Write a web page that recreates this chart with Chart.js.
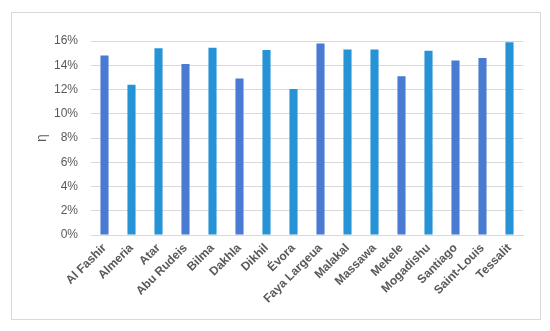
<!DOCTYPE html>
<html>
<head>
<meta charset="utf-8">
<script src="https://cdn.jsdelivr.net/npm/chart.js@4"></script>
<style>
  body { margin: 0; background: #fff; }
  #wrap { position: relative; width: 550px; height: 331px; }
  #frame { position: absolute; left: 11px; top: 12px; width: 528px; height: 306px; border: 1px solid #d9d9d9; pointer-events: none; }
  canvas { position: absolute; left: 0; top: 0; }
</style>
</head>
<body>
<div id="wrap">
  <canvas id="grafica" width="550" height="331"></canvas>
  <div id="frame"></div>
</div>
<script>
// Datos
const estaciones = ['Al Fashir', 'Almeria', 'Atar', 'Abu Rudeis', 'Bilma', 'Dakhla', 'Dikhil', 'Évora',
    'Faya Largeua', 'Malakal', 'Massawa', 'Mekele', 'Mogadishu', 'Santiago', 'Saint-Louis', 'Tessalit'];
const eficiencia = [14.8, 12.4, 15.4, 14.1, 15.45, 12.9, 15.25, 12.05, 15.8, 15.3, 15.3, 13.1, 15.2, 14.4, 14.6, 15.9];
const ticksY = [0, 2, 4, 6, 8, 10, 12, 14, 16];

// Colores de las barras
const azul = '#4a7bd2';
const cian = '#2593d6';
const colores = [azul, cian, cian, azul, cian, azul, cian, cian, azul, cian, cian, azul, cian, azul, azul, cian];

const gris = '#595959';

new Chart(document.getElementById('grafica').getContext('2d'), {
    type: 'bar',
    data: {
        labels: estaciones,
        datasets: [{
            data: eficiencia,
            backgroundColor: colores,
            borderWidth: 0,
            categoryPercentage: 1,
            barPercentage: 0.3
        }]
    },
    options: {
        responsive: false,
        animation: false,
        devicePixelRatio: 1,
        layout: { padding: { top: 41, right: 27, left: 0, bottom: 0 } },
        plugins: {
            legend: { display: false },
            tooltip: { enabled: false }
        },
        scales: {
            x: {
                grid: { display: false, drawTicks: false },
                border: { display: true, color: '#d9d9d9' },
                ticks: {
                    color: gris,
                    font: { family: 'Liberation Sans', size: 12, weight: 'bold' },
                    minRotation: 45,
                    maxRotation: 45,
                    autoSkip: false,
                    padding: 6
                },
                afterFit: s => { s.height = 96; }
            },
            y: {
                min: 0,
                max: 16,
                afterBuildTicks: s => { s.ticks = ticksY.map(v => ({ value: v })); },
                grid: { color: '#d9d9d9', drawTicks: false },
                border: { display: false },
                ticks: {
                    color: gris,
                    font: { family: 'Liberation Sans', size: 12 },
                    padding: 13,
                    callback: v => v + '%'
                },
                title: {
                    display: true,
                    text: 'η',
                    color: gris,
                    font: { family: 'Liberation Sans', size: 14 },
                    padding: { top: 34, bottom: 0 }
                },
                afterFit: s => { s.width = 91; }
            }
        }
    }
});
</script>
</body>
</html>
